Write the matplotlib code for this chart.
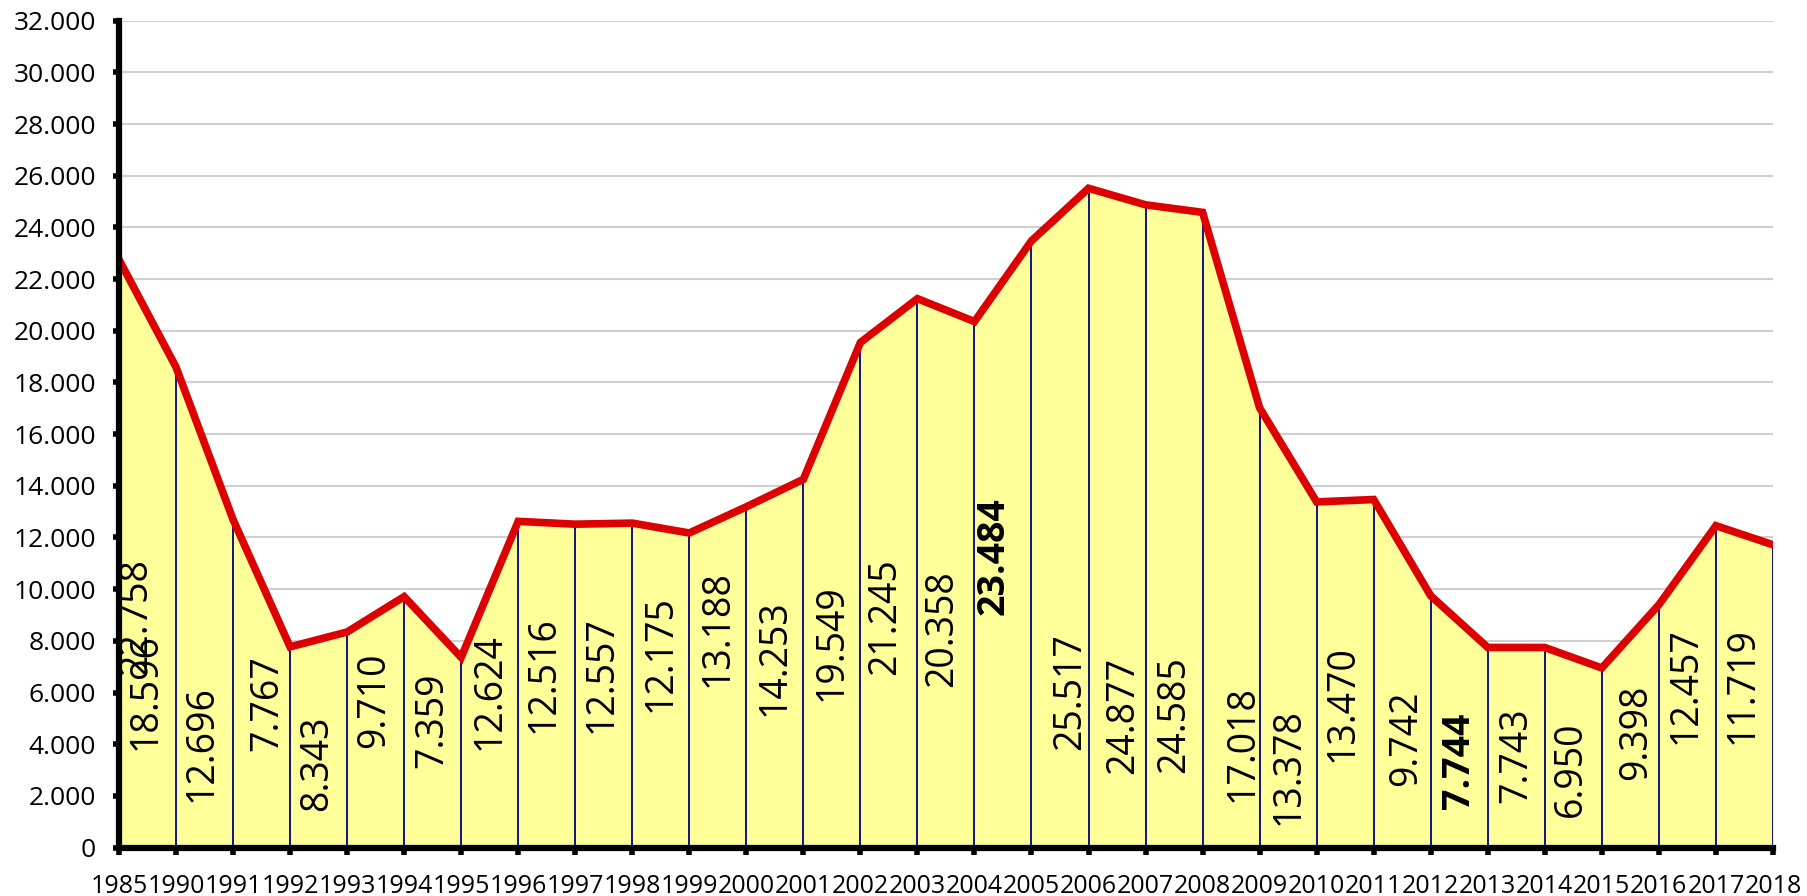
import matplotlib.pyplot as plt

years = ['1985', '1990', '1991', '1992', '1993', '1994', '1995', '1996', '1997', '1998',
         '1999', '2000', '2001', '2002', '2003', '2004', '2005', '2006', '2007', '2008',
         '2009', '2010', '2011', '2012', '2013', '2014', '2015', '2016', '2017', '2018']
values = [22758, 18596, 12696, 7767, 8343, 9710, 7359, 12624, 12516, 12557,
          12175, 13188, 14253, 19549, 21245, 20358, 23484, 25517, 24877, 24585,
          17018, 13378, 13470, 9742, 7744, 7743, 6950, 9398, 12457, 11719]
bold_years = ['2005', '2013']

# where each value label sits (category units / data units), as in the original
label_x = [0.3, 0.46, 1.45, 2.6, 3.47, 4.48, 5.5, 6.5, 7.45, 8.46,
           9.5, 10.5, 11.5, 12.5, 13.43, 14.44, 15.33, 16.67, 17.6, 18.5,
           19.7, 20.5, 21.45, 22.57, 23.5, 24.5, 25.45, 26.6, 27.47, 28.46]
label_y = [8930, 6030, 4020, 5580, 3250, 5710, 4910, 6030, 6690, 6690,
           7500, 8480, 7360, 7940, 8930, 8480, 11290, 6030, 5130, 5130,
           4020, 3120, 5580, 4240, 3350, 3570, 3030, 4460, 6250, 6250]


def fmt(v):
    return f'{v:,.0f}'.replace(',', '.')


plt.rcParams['font.family'] = ['Open Sans', 'DejaVu Sans']

fig = plt.figure(figsize=(18.08, 8.96), dpi=100)
ax = fig.add_axes([0.0658, 0.0541, 0.9148, 0.9227])

x = list(range(len(years)))
ax.fill_between(x, values, 0, color='#ffff99', zorder=1)
ax.vlines(x[1:], 0, values[1:], color='#000080', lw=1.3, zorder=2)
ax.plot(x, values, color='#dd0000', lw=5.5, solid_joinstyle='miter', zorder=3)

for yr, lx, ly, v in zip(years, label_x, label_y, values):
    ax.text(lx, ly, fmt(v), rotation=90, ha='center', va='center', fontsize=27,
            fontweight='bold' if yr in bold_years else 'normal', zorder=4)

ax.set_xlim(0, len(years) - 1)
ax.set_ylim(0, 32000)
ax.set_xticks(x)
ax.set_xticklabels(years, fontsize=18)
yt = list(range(0, 32001, 2000))
ax.set_yticks(yt)
ax.set_yticklabels([fmt(t) for t in yt], fontsize=19)

ax.grid(axis='y', color='#d0d0d0', lw=1.5)
ax.set_axisbelow(True)
for s in ['top', 'right']:
    ax.spines[s].set_visible(False)
for s in ['left', 'bottom']:
    ax.spines[s].set_linewidth(4.5)
    ax.spines[s].set_zorder(5)
ax.tick_params(axis='y', length=4.5, width=4, pad=12)
ax.tick_params(axis='x', length=5, width=4, pad=14)

fig.savefig('out.png', dpi=100)
